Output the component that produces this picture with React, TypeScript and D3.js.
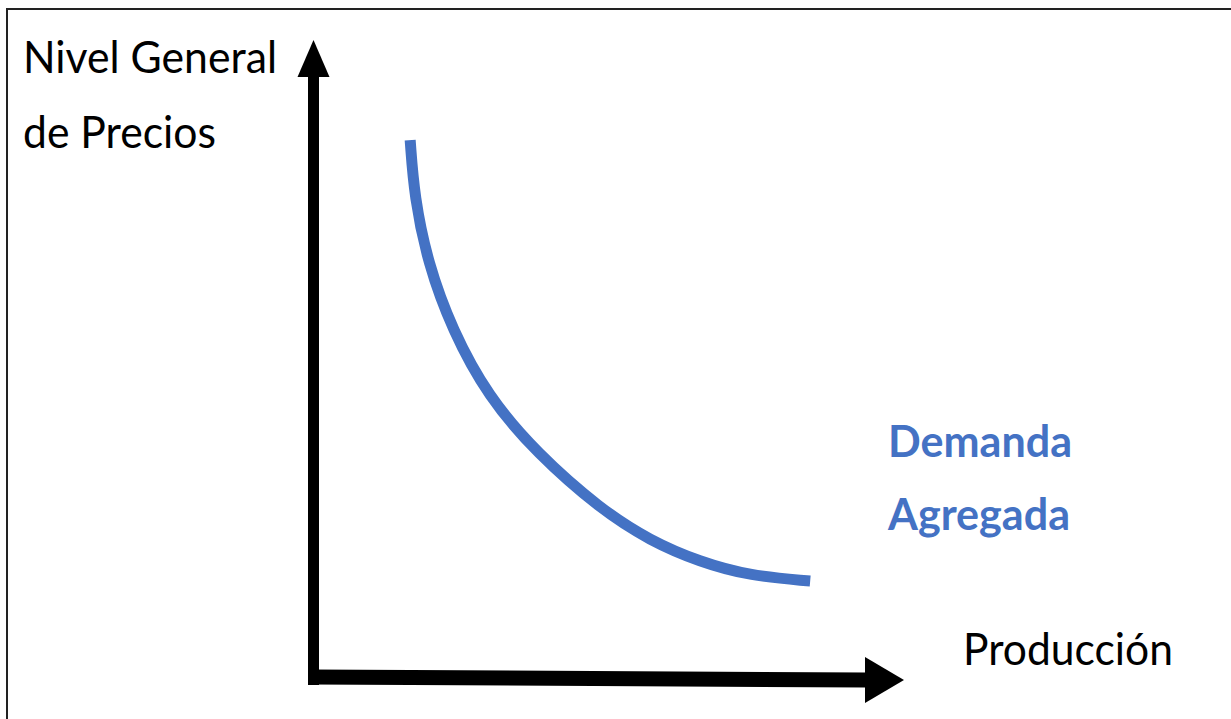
import React from "react";
import * as d3 from "d3";

// Curva de Demanda Agregada (unidades relativas: producción 0–100, precios 0–100)
const produccion = [16.3, 17.0, 19.3, 23.4, 29.5, 37.8, 48.5, 57.0, 65.4, 73.9, 84.1];
const nivelPrecios = [84.3, 75.4, 65.0, 54.6, 44.1, 35.2, 26.5, 21.5, 18.2, 16.0, 15.2];
const yAxisLabel = ["Nivel General", "de Precios"];
const xAxisLabel = "Producción";
const curveLabel = ["Demanda", "Agregada"];

const W = 1231;
const H = 719;
const BLUE = "#4472C4";

export default function App() {
  const x = d3.scaleLinear().domain([0, 100]).range([314, 904]);
  const y = d3.scaleLinear().domain([0, 100]).range([678, 40]);

  const pts: [number, number][] = produccion.map((p, i) => [p, nivelPrecios[i]]);
  const line = d3
    .line<[number, number]>()
    .x((d) => x(d[0]))
    .y((d) => y(d[1]))
    .curve(d3.curveBasis);

  // Axes geometry
  const ox = x(0);
  const oy = y(0);
  const yTip = y(100);
  const xTip = x(100);
  const yHeadLen = 37;
  const yHeadHalf = 16;
  const xHeadLen = 39;
  const xHeadHalf = 23;
  const xLeftY = oy - 1;
  const xRightY = oy + 3;

  const font = "Lato, 'Open Sans', sans-serif";

  return (
    <svg
      width={W}
      height={H}
      style={{ position: "absolute", left: 0, top: 0, background: "#fff" }}
    >
      {/* marco */}
      <rect x={7} y={9} width={W + 20} height={H + 20} fill="none" stroke="#222" strokeWidth={2} />

      {/* eje Y */}
      <line x1={ox - 0.5} y1={oy + 7} x2={ox - 0.5} y2={yTip + yHeadLen - 1} stroke="#000" strokeWidth={11} />
      <path
        d={`M${ox - 0.5},${yTip} L${ox - 0.5 + yHeadHalf},${yTip + yHeadLen} L${ox - 0.5 - yHeadHalf},${yTip + yHeadLen} Z`}
        fill="#000"
      />

      {/* eje X */}
      <line
        x1={ox - 3}
        y1={xLeftY}
        x2={xTip - xHeadLen + 1}
        y2={xRightY - 1}
        stroke="#000"
        strokeWidth={15}
      />
      <path
        d={`M${xTip},${xRightY - 1} L${xTip - xHeadLen},${xRightY - 1 - xHeadHalf} L${xTip - xHeadLen},${xRightY - 1 + xHeadHalf} Z`}
        fill="#000"
      />

      {/* curva */}
      <path d={line(pts) || ""} fill="none" stroke={BLUE} strokeWidth={11} strokeLinecap="butt" />

      {/* textos */}
      <text x={23} y={73} fontFamily={font} fontSize={44} fill="#000" textLength={254} lengthAdjust="spacingAndGlyphs">
        {yAxisLabel[0]}
      </text>
      <text x={23} y={148} fontFamily={font} fontSize={44} fill="#000" textLength={193} lengthAdjust="spacingAndGlyphs">
        {yAxisLabel[1]}
      </text>
      <text x={963} y={665} fontFamily={font} fontSize={44} fill="#000" textLength={210} lengthAdjust="spacingAndGlyphs">
        {xAxisLabel}
      </text>
      <text x={888} y={457} fontFamily={font} fontSize={43} fontWeight="bold" fill={BLUE} textLength={184} lengthAdjust="spacingAndGlyphs">
        {curveLabel[0]}
      </text>
      <text x={888} y={530} fontFamily={font} fontSize={43} fontWeight="bold" fill={BLUE} textLength={182} lengthAdjust="spacingAndGlyphs">
        {curveLabel[1]}
      </text>
    </svg>
  );
}
